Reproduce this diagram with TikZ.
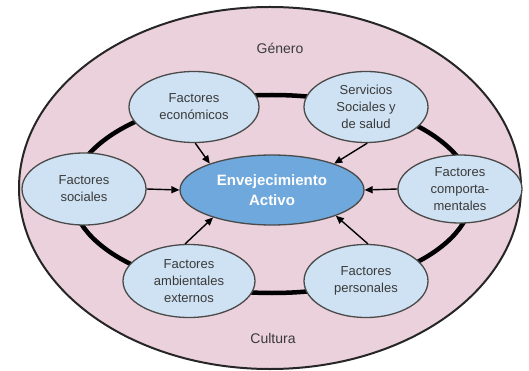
\documentclass[tikz,border=0pt]{standalone}
\usepackage{fontspec}
\setmainfont{Liberation Sans}
\usetikzlibrary{shapes.geometric,arrows.meta}
\definecolor{bgpink}{HTML}{EAD1DC}
\definecolor{lblue}{HTML}{CFE2F3}
\definecolor{mblue}{HTML}{6FA8DC}
\definecolor{txt}{HTML}{3A3A3A}
\definecolor{edge}{HTML}{4A4A4A}
\tikzset{
  factor/.style={ellipse, draw=edge, line width=1.3pt, fill=lblue, inner sep=0pt,
    minimum width=124pt, minimum height=71pt, align=center, text=txt,
    font=\fontsize{13}{17}\selectfont},
  center/.style={ellipse, draw=edge, line width=1.3pt, fill=mblue, inner sep=0pt,
    minimum width=184pt, minimum height=70pt, align=center, text=white,
    font=\fontsize{15}{20}\selectfont\bfseries},
  outer label/.style={text=txt, font=\fontsize{14}{17}\selectfont},
  infl/.style={draw=black, line width=1.4pt, -{Triangle[length=8pt,width=7pt]}},
}
\begin{document}
\begin{tikzpicture}[x=1pt,y=-1pt]
\useasboundingbox (0,0) rectangle (529,371);
% outer ellipse
\draw[fill=bgpink, draw=black!85, line width=2pt] (270,188) ellipse [x radius=251, y radius=181];
% inner ring
\draw[black, line width=4.5pt] (272,194) ellipse [x radius=200, y radius=99];
% labels
\node[outer label] (gen) at (280,48) {Género};
\node[outer label] (cul) at (273,338) {Cultura};
% nodes
\node[factor, minimum width=130pt] (eco) at (194,107) {Factores\\económicos};
\node[factor] (serv) at (366,107) {Servicios\\Sociales y\\de salud};
\node[factor, minimum height=72pt] (soc) at (84,189) {Factores\\sociales};
\node[factor, minimum height=68pt] (comp) at (460,189) {Factores\\comporta-\\mentales};
\node[factor, minimum width=132pt, minimum height=73pt] (amb) at (189,281) {Factores\\ambientales\\externos};
\node[factor, minimum height=73pt] (per) at (366,281) {Factores\\personales};
\node[center] (env) at (272,190) {Envejecimiento\\Activo};
% arrows
\draw[infl] (eco.-88) -- (env.157);
\draw[infl] (serv.-88) -- (env.23);
\draw[infl] (soc.east) -- (env.west);
\draw[infl] (comp.west) -- (env.east);
\draw[infl] (amb.96) -- (env.205);
\draw[infl] (per.87) -- (env.338);
\end{tikzpicture}
\end{document}
